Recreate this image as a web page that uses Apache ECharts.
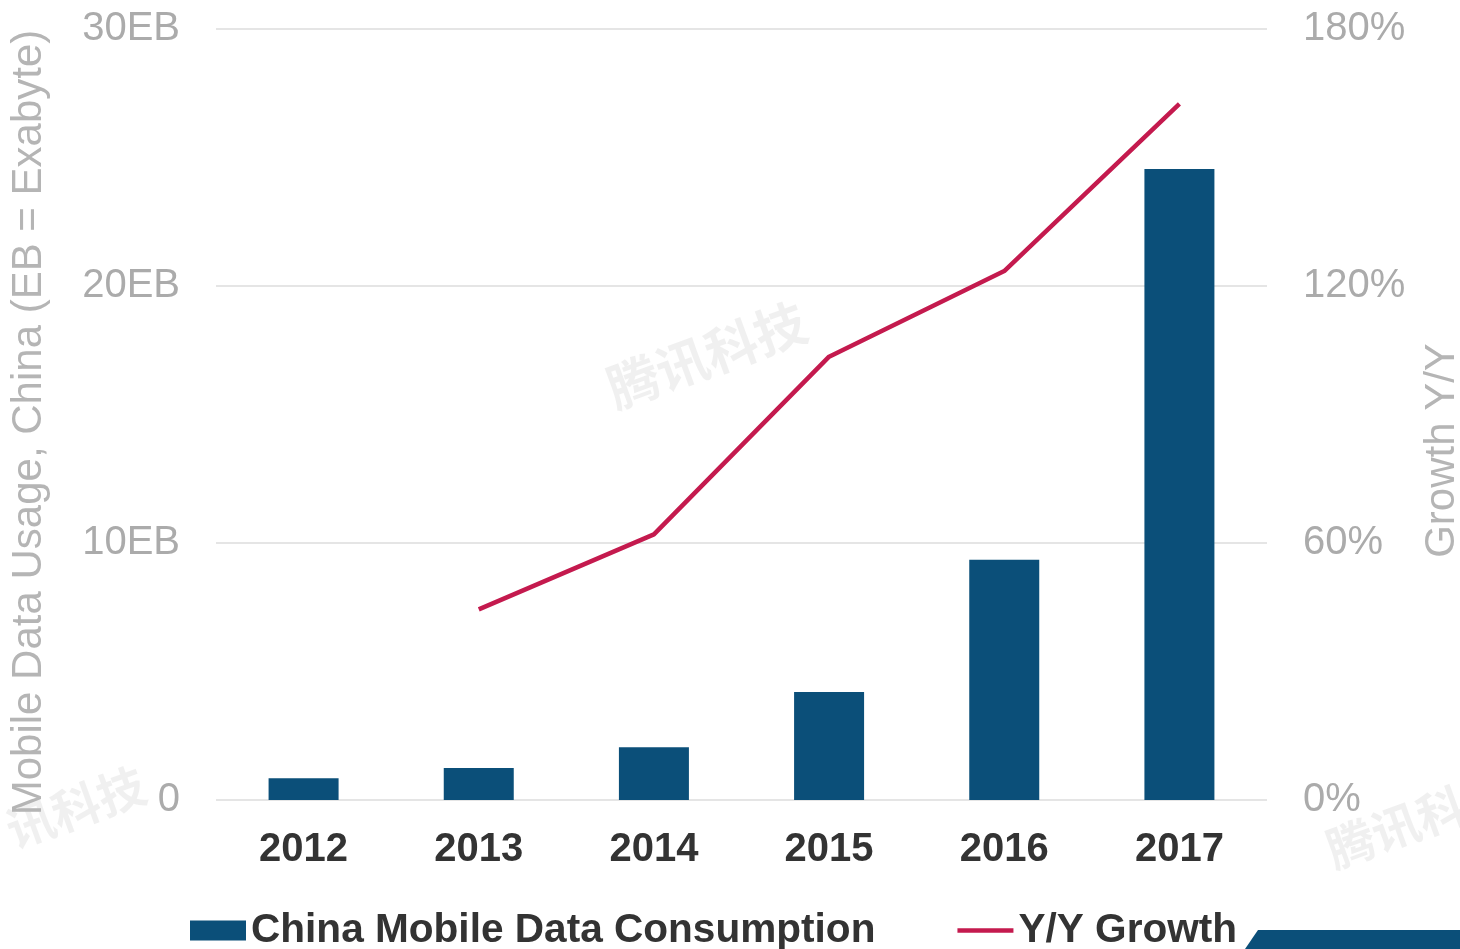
<!DOCTYPE html>
<html>
<head>
<meta charset="utf-8">
<title>China Mobile Data Consumption</title>
<script src="https://cdn.jsdelivr.net/npm/echarts@6/dist/echarts.min.js"></script>
<style>
    html, body { margin: 0; padding: 0; background: #fff; }
    #chart { width: 1460px; height: 949px; }
</style>
</head>
<body>
<div id="chart"></div>
<script>
var years = ['2012', '2013', '2014', '2015', '2016', '2017'];
// mobile data usage, EB
var usage = [0.85, 1.25, 2.05, 4.2, 9.35, 24.55];
// growth Y/Y, %
var growth = [null, 44.5, 62, 103.5, 123.5, 162.5];
var leftTicks = [0, 10, 20, 30];
var rightTicks = [0, 60, 120, 180];

var FONT = '"Liberation Sans", Arial, Helvetica, sans-serif';
var BLUE = '#0b4f79';
var RED = '#c41a4e';
var GREY = '#ababab';

var chart = echarts.init(document.getElementById('chart'));

var option = {
    backgroundColor: '#fff',
    animation: false,
    textStyle: { fontFamily: FONT },
    grid: { left: 216, right: 193, top: 29, bottom: 149, outerBoundsMode: 'none' },
    legend: {
        left: 190,
        top: 910,
        padding: 0,
        itemWidth: 56,
        itemHeight: 20,
        itemGap: 82,
        textStyle: { fontSize: 40.6, fontWeight: 'bold', color: '#333' },
        data: [
            { name: 'China Mobile Data Consumption', icon: 'rect' },
            { name: 'Y/Y Growth', icon: 'path://M0,0H60V5H0Z' }
        ]
    },
    xAxis: {
        type: 'category',
        data: years,
        axisLine: { show: false },
        axisTick: { show: false },
        axisLabel: { fontSize: 40, fontWeight: 'bold', color: '#333', margin: 30 }
    },
    yAxis: [
        {
            type: 'value',
            min: leftTicks[0],
            max: leftTicks[leftTicks.length - 1],
            interval: 10,
            name: 'Mobile Data Usage, China (EB = Exabyte)',
            nameLocation: 'middle',
            nameRotate: 90,
            nameGap: 166,
            nameTextStyle: { fontSize: 42, color: '#b5b5b5', padding: [0, 16, 0, 0] },
            axisLine: { show: false },
            axisTick: { show: false },
            axisLabel: {
                fontSize: 40, color: GREY, margin: 36,
                formatter: function (v) { return v === 0 ? '0' : v + 'EB'; }
            },
            splitLine: { lineStyle: { color: '#dcdcdc', width: 1.5 } }
        },
        {
            type: 'value',
            min: rightTicks[0],
            max: rightTicks[rightTicks.length - 1],
            interval: 60,
            name: 'Growth Y/Y',
            nameLocation: 'middle',
            nameRotate: 90,
            nameGap: 154,
            nameTextStyle: { fontSize: 42, color: '#b5b5b5', padding: [0, 72, 0, 0] },
            axisLine: { show: false },
            axisTick: { show: false },
            axisLabel: {
                fontSize: 40, color: GREY, margin: 36,
                formatter: '{value}%'
            },
            splitLine: { show: false }
        }
    ],
    series: [
        {
            name: 'China Mobile Data Consumption',
            type: 'bar',
            data: usage,
            barWidth: 70,
            itemStyle: { color: BLUE }
        },
        {
            name: 'Y/Y Growth',
            type: 'line',
            yAxisIndex: 1,
            data: growth,
            symbol: 'none',
            lineStyle: { color: RED, width: 4.5 },
            itemStyle: { color: RED }
        }
    ],
    graphic: [
        {
            type: 'polygon',
            silent: true,
            shape: { points: [[1258, 930], [1460, 930], [1460, 949], [1245, 949]] },
            style: { fill: BLUE }
        },
        {
            type: 'text',
            silent: true,
            left: 600, top: 295,
            rotation: 0.35,
            style: { text: '腾讯科技', fontSize: 52, fontWeight: 'bold', fill: 'rgba(0,0,0,0.06)', fontFamily: '"Noto Sans CJK SC", sans-serif' }
        },
        {
            type: 'text',
            silent: true,
            left: 0, top: 760,
            rotation: 0.35,
            style: { text: '讯科技', fontSize: 48, fontWeight: 'bold', fill: 'rgba(0,0,0,0.06)', fontFamily: '"Noto Sans CJK SC", sans-serif' }
        },
        {
            type: 'text',
            silent: true,
            left: 1320, top: 780,
            rotation: 0.35,
            style: { text: '腾讯科', fontSize: 48, fontWeight: 'bold', fill: 'rgba(0,0,0,0.06)', fontFamily: '"Noto Sans CJK SC", sans-serif' }
        }
    ]
};

chart.setOption(option);
</script>
</body>
</html>
